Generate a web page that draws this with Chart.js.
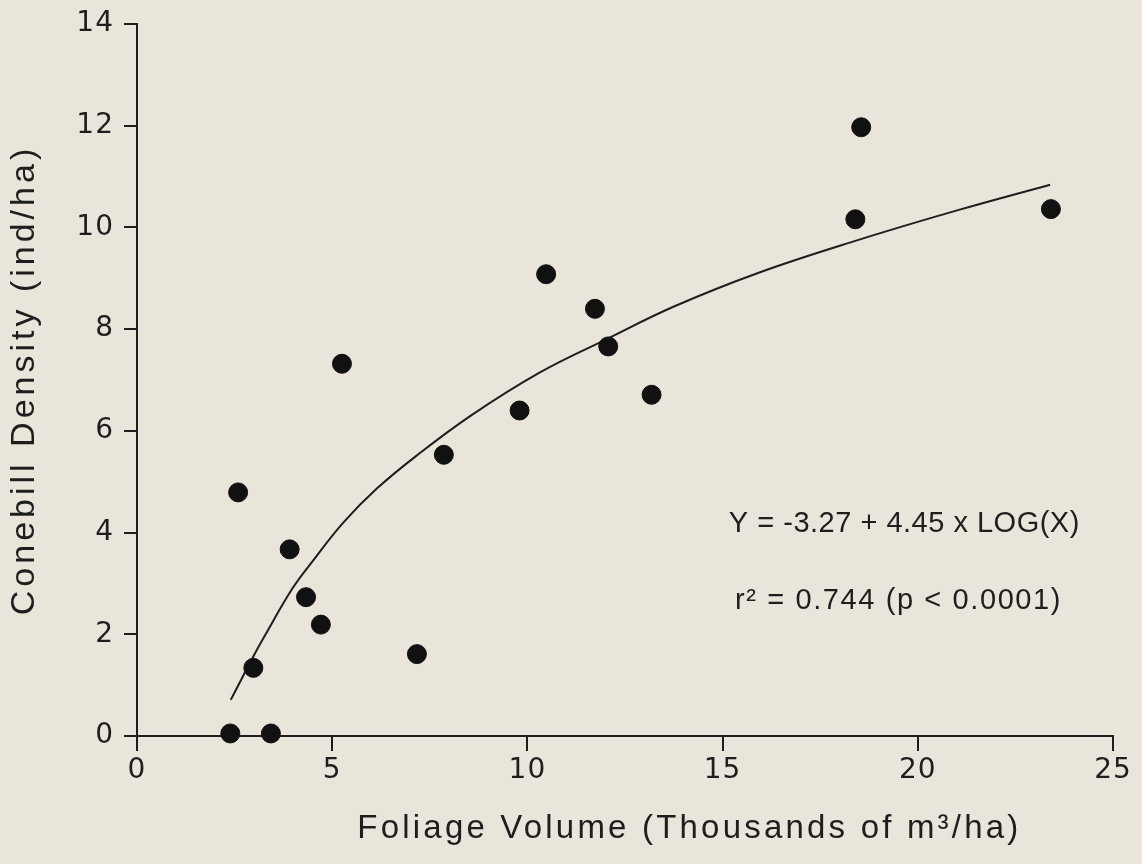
<!DOCTYPE html>
<html>
<head>
<meta charset="utf-8">
<title>Conebill density vs foliage volume</title>
<script src="https://cdn.jsdelivr.net/npm/chart.js@4"></script>
<style>
  html, body { margin: 0; padding: 0; background: #e9e5da; }
  #wrap { width: 1142px; height: 864px; }
</style>
</head>
<body>
<div id="wrap"><canvas id="scatter-graph" width="1142" height="864"></canvas></div>
<script>
// observed plots (thousands of m3/ha, ind/ha)
const foliageVolume = [2.39, 2.59, 2.98, 3.43, 3.91, 4.33, 4.71, 5.25, 7.17, 7.86, 9.80, 10.48, 11.73, 12.07, 13.18, 18.40, 18.55, 23.41];
const conebillDensity = [0.05, 4.79, 1.34, 0.05, 3.67, 2.73, 2.19, 7.32, 1.61, 5.53, 6.40, 9.08, 8.40, 7.66, 6.71, 10.16, 11.97, 10.36];

// fitted curve
const fitX = [2.40, 2.97, 3.28, 3.98, 4.50, 5.29, 6.15, 7.19, 8.57, 10.30, 12.02, 13.74, 15.89, 18.46, 21.03, 23.39];
const fitY = [0.71, 1.55, 1.98, 2.90, 3.44, 4.20, 4.87, 5.53, 6.31, 7.14, 7.80, 8.44, 9.10, 9.75, 10.34, 10.84];

const xTicks = [0, 5, 10, 15, 20, 25];
const yTicks = [0, 2, 4, 6, 8, 10, 12, 14];

const xTitle = 'Foliage Volume (Thousands of m\u00B3/ha)';
const yTitle = 'Conebill Density (ind/ha)';
const equationLines = ['Y = -3.27 + 4.45 x LOG(X)', 'r\u00B2 = 0.744 (p < 0.0001)'];

const ink = '#1e1e1e';
const paper = '#e9e5da';

let oScatterGraph = {
    init: function() {
        this.cacheDom();
        this.setGraphData();
    },
    cacheDom: function() {
        this.oGraph = document.getElementById('scatter-graph').getContext('2d');
    },
    setGraphData() {
        let points = foliageVolume.map((x, i) => ({ x: x, y: conebillDensity[i] }));
        let curve = fitX.map((x, i) => ({ x: x, y: fitY[i] }));

        let data = {
            datasets: [
                {
                    label: 'Observed',
                    data: points,
                    backgroundColor: '#111',
                    borderColor: '#111',
                    pointRadius: 9.5,
                    showLine: false,
                    clip: false
                },
                {
                    label: 'Fit',
                    data: curve,
                    borderColor: ink,
                    borderWidth: 2,
                    pointRadius: 0,
                    showLine: true,
                    fill: false,
                    tension: 0.4,
                    clip: false
                }
            ]
        };

        // paper colour, axis titles and the equation
        let paperPlugin = {
            id: 'paper',
            beforeUpdate(chart) {
                chart.ctx.letterSpacing = '1px';
            },
            beforeDraw(chart) {
                let ctx = chart.ctx;
                ctx.save();
                ctx.fillStyle = paper;
                ctx.fillRect(0, 0, chart.width, chart.height);
                ctx.restore();
                ctx.letterSpacing = '1px';
            },
            afterDraw(chart) {
                let ctx = chart.ctx;
                let xs = chart.scales.x, ys = chart.scales.y;
                let area = chart.chartArea;
                ctx.save();
                ctx.fillStyle = ink;
                ctx.textBaseline = 'alphabetic';

                // x title
                ctx.letterSpacing = '3.2px';
                ctx.font = '33px "Liberation Sans"';
                ctx.textAlign = 'center';
                ctx.fillText(xTitle, xs.getPixelForValue(14.15), 838);

                // y title
                ctx.save();
                ctx.translate(34, (area.top + area.bottom) / 2);
                ctx.rotate(-Math.PI / 2);
                ctx.letterSpacing = '4px';
                ctx.font = '34px "Liberation Sans"';
                ctx.fillText(yTitle, 0, 0);
                ctx.restore();

                // equation
                ctx.font = '29px "Liberation Sans"';
                ctx.textAlign = 'left';
                ctx.letterSpacing = '0.5px';
                ctx.fillText(equationLines[0], xs.getPixelForValue(15.16), ys.getPixelForValue(4.02));
                ctx.letterSpacing = '1.6px';
                ctx.fillText(equationLines[1], xs.getPixelForValue(15.32), ys.getPixelForValue(2.50));
                ctx.restore();
            }
        };

        let tickFont = { family: 'DejaVu Sans', size: 28, lineHeight: 1 };

        let options = {
            responsive: false,
            animation: false,
            layout: { padding: { top: 21, right: 29, left: 0, bottom: 0 } },
            plugins: {
                legend: { display: false },
                tooltip: { enabled: false }
            },
            scales: {
                x: {
                    type: 'linear',
                    min: 0,
                    max: 25,
                    afterBuildTicks: s => { s.ticks = xTicks.map(v => ({ value: v })); },
                    afterFit: s => { s.height = 128; },
                    ticks: { color: ink, font: tickFont, padding: 6, maxRotation: 0 },
                    grid: { drawOnChartArea: false, drawTicks: true, tickLength: 15, color: ink, lineWidth: 2 },
                    border: { color: ink, width: 2 }
                },
                y: {
                    type: 'linear',
                    min: 0,
                    max: 14,
                    afterBuildTicks: s => { s.ticks = yTicks.map(v => ({ value: v })); },
                    afterFit: s => { s.width = 137; },
                    ticks: { color: ink, font: tickFont, padding: 10 },
                    grid: { drawOnChartArea: false, drawTicks: true, tickLength: 13, color: ink, lineWidth: 2 },
                    border: { color: ink, width: 2 }
                }
            }
        };

        this.chart = new Chart(this.oGraph, {
            type: 'scatter',
            data: data,
            options: options,
            plugins: [paperPlugin]
        });
    }
};

oScatterGraph.init();
</script>
</body>
</html>
